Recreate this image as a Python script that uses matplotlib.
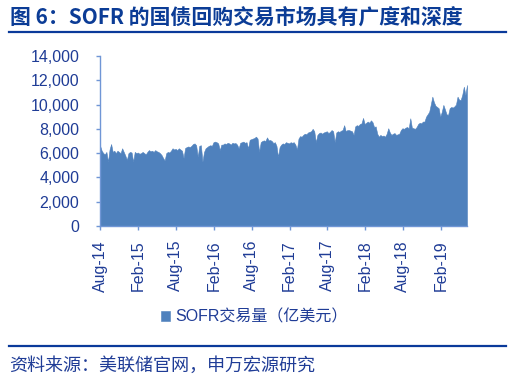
import matplotlib.pyplot as plt
import matplotlib.ticker as mticker
import pandas as pd

### DATA ###

start_date = '2014-08-22'
end_date = '2019-06-28'

# SOFR 交易量（亿美元），约每周一个值，按月分组读自原图
volume = [
    6600, 6200,                      # 2014-08
    6000, 5900, 6100, 5300,          # 2014-09
    6300, 6750, 6100, 6200,          # 2014-10
    6000, 6200, 6100, 6000,          # 2014-11
    6400, 6100, 5800, 5450,          # 2014-12
    6000, 6100, 6050, 5300,          # 2015-01
    6100, 6000, 6050, 5950,          # 2015-02
    6000, 6100, 6000, 5900,          # 2015-03
    6100, 6250, 6150, 6200,          # 2015-04
    6100, 6250, 6150, 6100,          # 2015-05
    6000, 5850, 5600, 5400,          # 2015-06
    6000, 6100, 6050, 6200,          # 2015-07
    6400, 6300, 6350, 6250,          # 2015-08
    6400, 6300, 6200, 5600,          # 2015-09
    6420, 6500, 6550, 6500,          # 2015-10
    6600, 6750, 6800, 6650,          # 2015-11
    5700, 6600, 6650, 5300,          # 2015-12
    6100, 6400, 6500, 6600,          # 2016-01
    6650, 6600, 6900, 6950,          # 2016-02
    6900, 6800, 6250, 6700,          # 2016-03
    6700, 6800, 6750, 6850,          # 2016-04
    6800, 6700, 6850, 6800,          # 2016-05
    6830, 6700, 6400, 6850,          # 2016-06
    6900, 6950, 6850, 6900,          # 2016-07
    6400, 7100, 7150, 7200,          # 2016-08
    7250, 7360, 7200, 6100,          # 2016-09
    6900, 7000, 7050, 7000,          # 2016-10
    7300, 7050, 7080, 7000,          # 2016-11
    6830, 6900, 6600, 5700,          # 2016-12
    6500, 6700, 6800, 6750,          # 2017-01
    6900, 6850, 6800, 6900,          # 2017-02
    6850, 6900, 6700, 6300,          # 2017-03
    7200, 7400, 7350, 7500,          # 2017-04
    7600, 7550, 7700, 7750,          # 2017-05
    7800, 8000, 7800, 6900,          # 2017-06
    7500, 7650, 7700, 7600,          # 2017-07
    7700, 7750, 7800, 7650,          # 2017-08
    7750, 7900, 7800, 6900,          # 2017-09
    7700, 7800, 7750, 7850,          # 2017-10
    7900, 8300, 7800, 7900,          # 2017-11
    7900, 7850, 7800, 7500,          # 2017-12
    8200, 8300, 8250, 8400,          # 2018-01
    8450, 8900, 8400, 8500,          # 2018-02
    8600, 8500, 8700, 8550,          # 2018-03
    8150, 8200, 7600, 7350,          # 2018-04
    7500, 7400, 7450, 7350,          # 2018-05
    7600, 8050, 7700, 7500,          # 2018-06
    7600, 7650, 7500, 7550,          # 2018-07
    7600, 7900, 8050, 8000,          # 2018-08
    8100, 8150, 8050, 8870,          # 2018-09
    8100, 8050, 8000, 8150,          # 2018-10
    8400, 8500, 8450, 8600,          # 2018-11
    8600, 9000, 9200, 9400,          # 2018-12
    10000, 10650, 10200, 9900,       # 2019-01
    9800, 9700, 9000, 9400,          # 2019-02
    9970, 9600, 9200, 9140,          # 2019-03
    9700, 9800, 9750, 9850,          # 2019-04
    10000, 10650, 10400, 10380,      # 2019-05
    10800, 11470, 10790, 11610,      # 2019-06
]

tick_labels = ['Aug-14', 'Feb-15', 'Aug-15', 'Feb-16', 'Aug-16',
               'Feb-17', 'Aug-17', 'Feb-18', 'Aug-18', 'Feb-19']
y_ticks = [0, 2000, 4000, 6000, 8000, 10000, 12000, 14000]

title = '图 6：SOFR 的国债回购交易市场具有广度和深度'
legend_label = 'SOFR交易量（亿美元）'
source = '资料来源：美联储官网，申万宏源研究'

### STYLE ###

fill_color = '#4F81BD'
text_blue = '#1F3C96'
title_blue = '#0B3C96'
line_blue = '#0A3A9A'
spine_blue = '#7096D6'
fonts = ['Liberation Sans', 'Noto Sans CJK SC']
cjk = ['Noto Sans CJK SC', 'DejaVu Sans']

plt.rcParams['font.family'] = fonts

### PLOT ###

dates = pd.date_range(start_date, end_date, periods=len(volume))
tick_dates = pd.date_range(start_date, periods=len(tick_labels), freq=pd.DateOffset(months=6))

fig = plt.figure(figsize=(5.16, 3.86), dpi=100)
ax = fig.add_axes([0.194, 0.4145, 0.711, 0.4405])

ax.fill_between(dates, 0, volume, color=fill_color, linewidth=0.4, edgecolor=fill_color,
                label=legend_label)

ax.set_xlim(dates[0], dates[-1])
ax.set_ylim(0, 14000)
ax.set_yticks(y_ticks)
ax.yaxis.set_major_formatter(mticker.FuncFormatter(lambda v, p: f'{int(v):,}'))
ax.set_xticks(tick_dates)
ax.set_xticklabels(tick_labels, rotation=90)

for s in ['top', 'right']:
    ax.spines[s].set_visible(False)
for s in ['left', 'bottom']:
    ax.spines[s].set_color(spine_blue)
    ax.spines[s].set_linewidth(1.0)
ax.tick_params(axis='both', colors=spine_blue, labelcolor=text_blue, labelsize=11.5,
               length=3, width=1.0, direction='out')
ax.tick_params(axis='y', pad=12)
ax.tick_params(axis='x', pad=7)

leg = ax.legend(loc='center', bbox_to_anchor=(254 / 516, 1 - 317 / 386),
                bbox_transform=fig.transFigure, frameon=False, fontsize=11.5,
                handlelength=0.6, handleheight=0.6, handletextpad=0.3)
for t in leg.get_texts():
    t.set_color(text_blue)

# title and source with rules
fig.text(10 / 516, 1 - 17 / 386, title, fontsize=15, fontweight='bold', color=title_blue,
         family=cjk, va='center', ha='left')
fig.add_artist(plt.Line2D([9 / 516, 506 / 516], [1 - 32 / 386] * 2, color=line_blue,
                          linewidth=1.6, transform=fig.transFigure))
fig.add_artist(plt.Line2D([9 / 516, 506 / 516], [1 - 346 / 386] * 2, color=line_blue,
                          linewidth=1.6, transform=fig.transFigure))
fig.text(9 / 516, 1 - 366 / 386, source, fontsize=13, color=text_blue,
         family=cjk, va='center', ha='left')

fig.savefig('out.png', dpi=100)
